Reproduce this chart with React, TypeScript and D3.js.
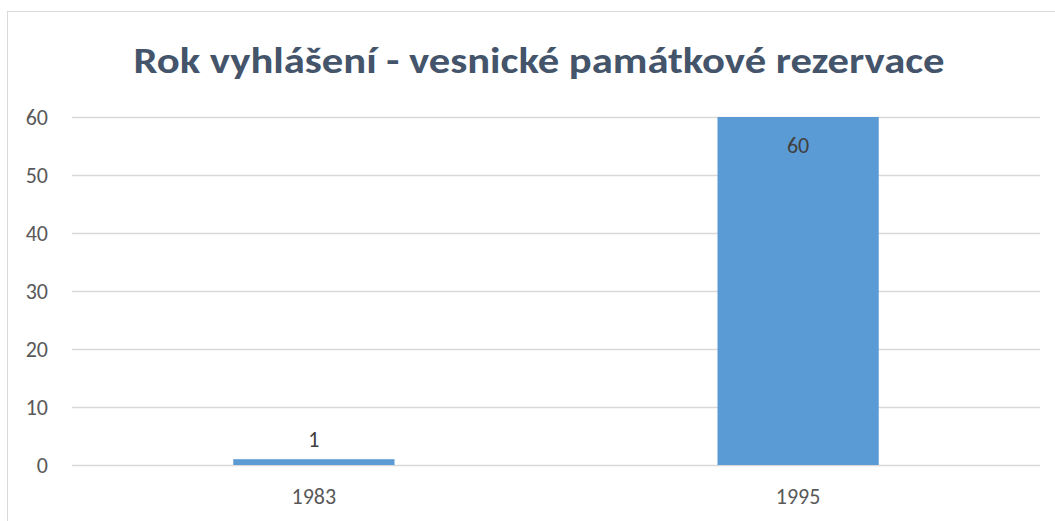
import { useEffect, useRef } from 'react';
import * as d3 from 'd3';

const categories = ['1983', '1995'];
const counts = [1, 60];
const yTicks = [0, 10, 20, 30, 40, 50, 60];
const title = 'Rok vyhlášení - vesnické památkové rezervace';

const width = 1055;
const height = 521;
const margin = { top: 117, right: 15, bottom: 56, left: 72 };
const font = 'Carlito, Calibri, Lato, sans-serif';

export default function App() {
    const svgRef = useRef<SVGSVGElement>(null);

    useEffect(() => {
        const svg = d3.select(svgRef.current);
        svg.selectAll('*').remove();

        const boundsWidth = width - margin.left - margin.right;
        const boundsHeight = height - margin.top - margin.bottom;

        // chart frame, runs off the right and bottom edge
        svg.append('rect')
            .attr('x', 7.5)
            .attr('y', 11.5)
            .attr('width', width + 20)
            .attr('height', height + 20)
            .attr('fill', '#fff')
            .attr('stroke', '#d9d9d9');

        svg.append('text')
            .attr('x', 539)
            .attr('y', 73)
            .attr('text-anchor', 'middle')
            .attr('font-family', font)
            .attr('font-weight', 'bold')
            .attr('font-size', 36)
            .attr('fill', '#44546a')
            .attr('textLength', 811)
            .attr('lengthAdjust', 'spacingAndGlyphs')
            .text(title);

        const g = svg.append('g').attr('transform', `translate(${margin.left},${margin.top})`);

        const x = d3.scaleBand()
            .domain(categories)
            .range([0, boundsWidth])
            .paddingInner(0.667)
            .paddingOuter(0.333);

        const y = d3.scaleLinear()
            .domain([0, 60])
            .range([boundsHeight, 0]);

        // gridlines
        g.selectAll('.grid')
            .data(yTicks)
            .join('line')
            .attr('x1', 0)
            .attr('x2', boundsWidth)
            .attr('y1', d => Math.round(y(d)) + 0.5)
            .attr('y2', d => Math.round(y(d)) + 0.5)
            .attr('stroke', '#d9d9d9')
            .attr('stroke-width', 1.5);

        g.selectAll('.ytick')
            .data(yTicks)
            .join('text')
            .attr('x', -24)
            .attr('y', d => y(d))
            .attr('dy', '0.35em')
            .attr('text-anchor', 'end')
            .attr('font-family', font)
            .attr('font-size', 22)
            .attr('fill', '#595959')
            .text(d => d);

        const data = categories.map((c, i) => ({ c, v: counts[i] }));

        g.selectAll('.bar')
            .data(data)
            .join('rect')
            .attr('x', d => x(d.c)!)
            .attr('y', d => y(d.v))
            .attr('width', x.bandwidth())
            .attr('height', d => boundsHeight - y(d.v))
            .attr('fill', '#5b9bd5');

        // data labels: outside end, moved inside when they hit the top
        g.selectAll('.label')
            .data(data)
            .join('text')
            .attr('x', d => x(d.c)! + x.bandwidth() / 2)
            .attr('y', d => (y(d.v) - 30 < 0 ? y(d.v) + 36 : y(d.v) - 12))
            .attr('text-anchor', 'middle')
            .attr('font-family', font)
            .attr('font-size', 22)
            .attr('fill', '#404040')
            .text(d => d.v);

        g.selectAll('.xtick')
            .data(categories)
            .join('text')
            .attr('x', d => x(d)! + x.bandwidth() / 2)
            .attr('y', boundsHeight + 39)
            .attr('text-anchor', 'middle')
            .attr('font-family', font)
            .attr('font-size', 22)
            .attr('fill', '#595959')
            .text(d => d);
    }, []);

    return (
        <svg
            ref={svgRef}
            width={width}
            height={height}
            style={{ position: 'absolute', left: 0, top: 0 }}
        />
    );
}
